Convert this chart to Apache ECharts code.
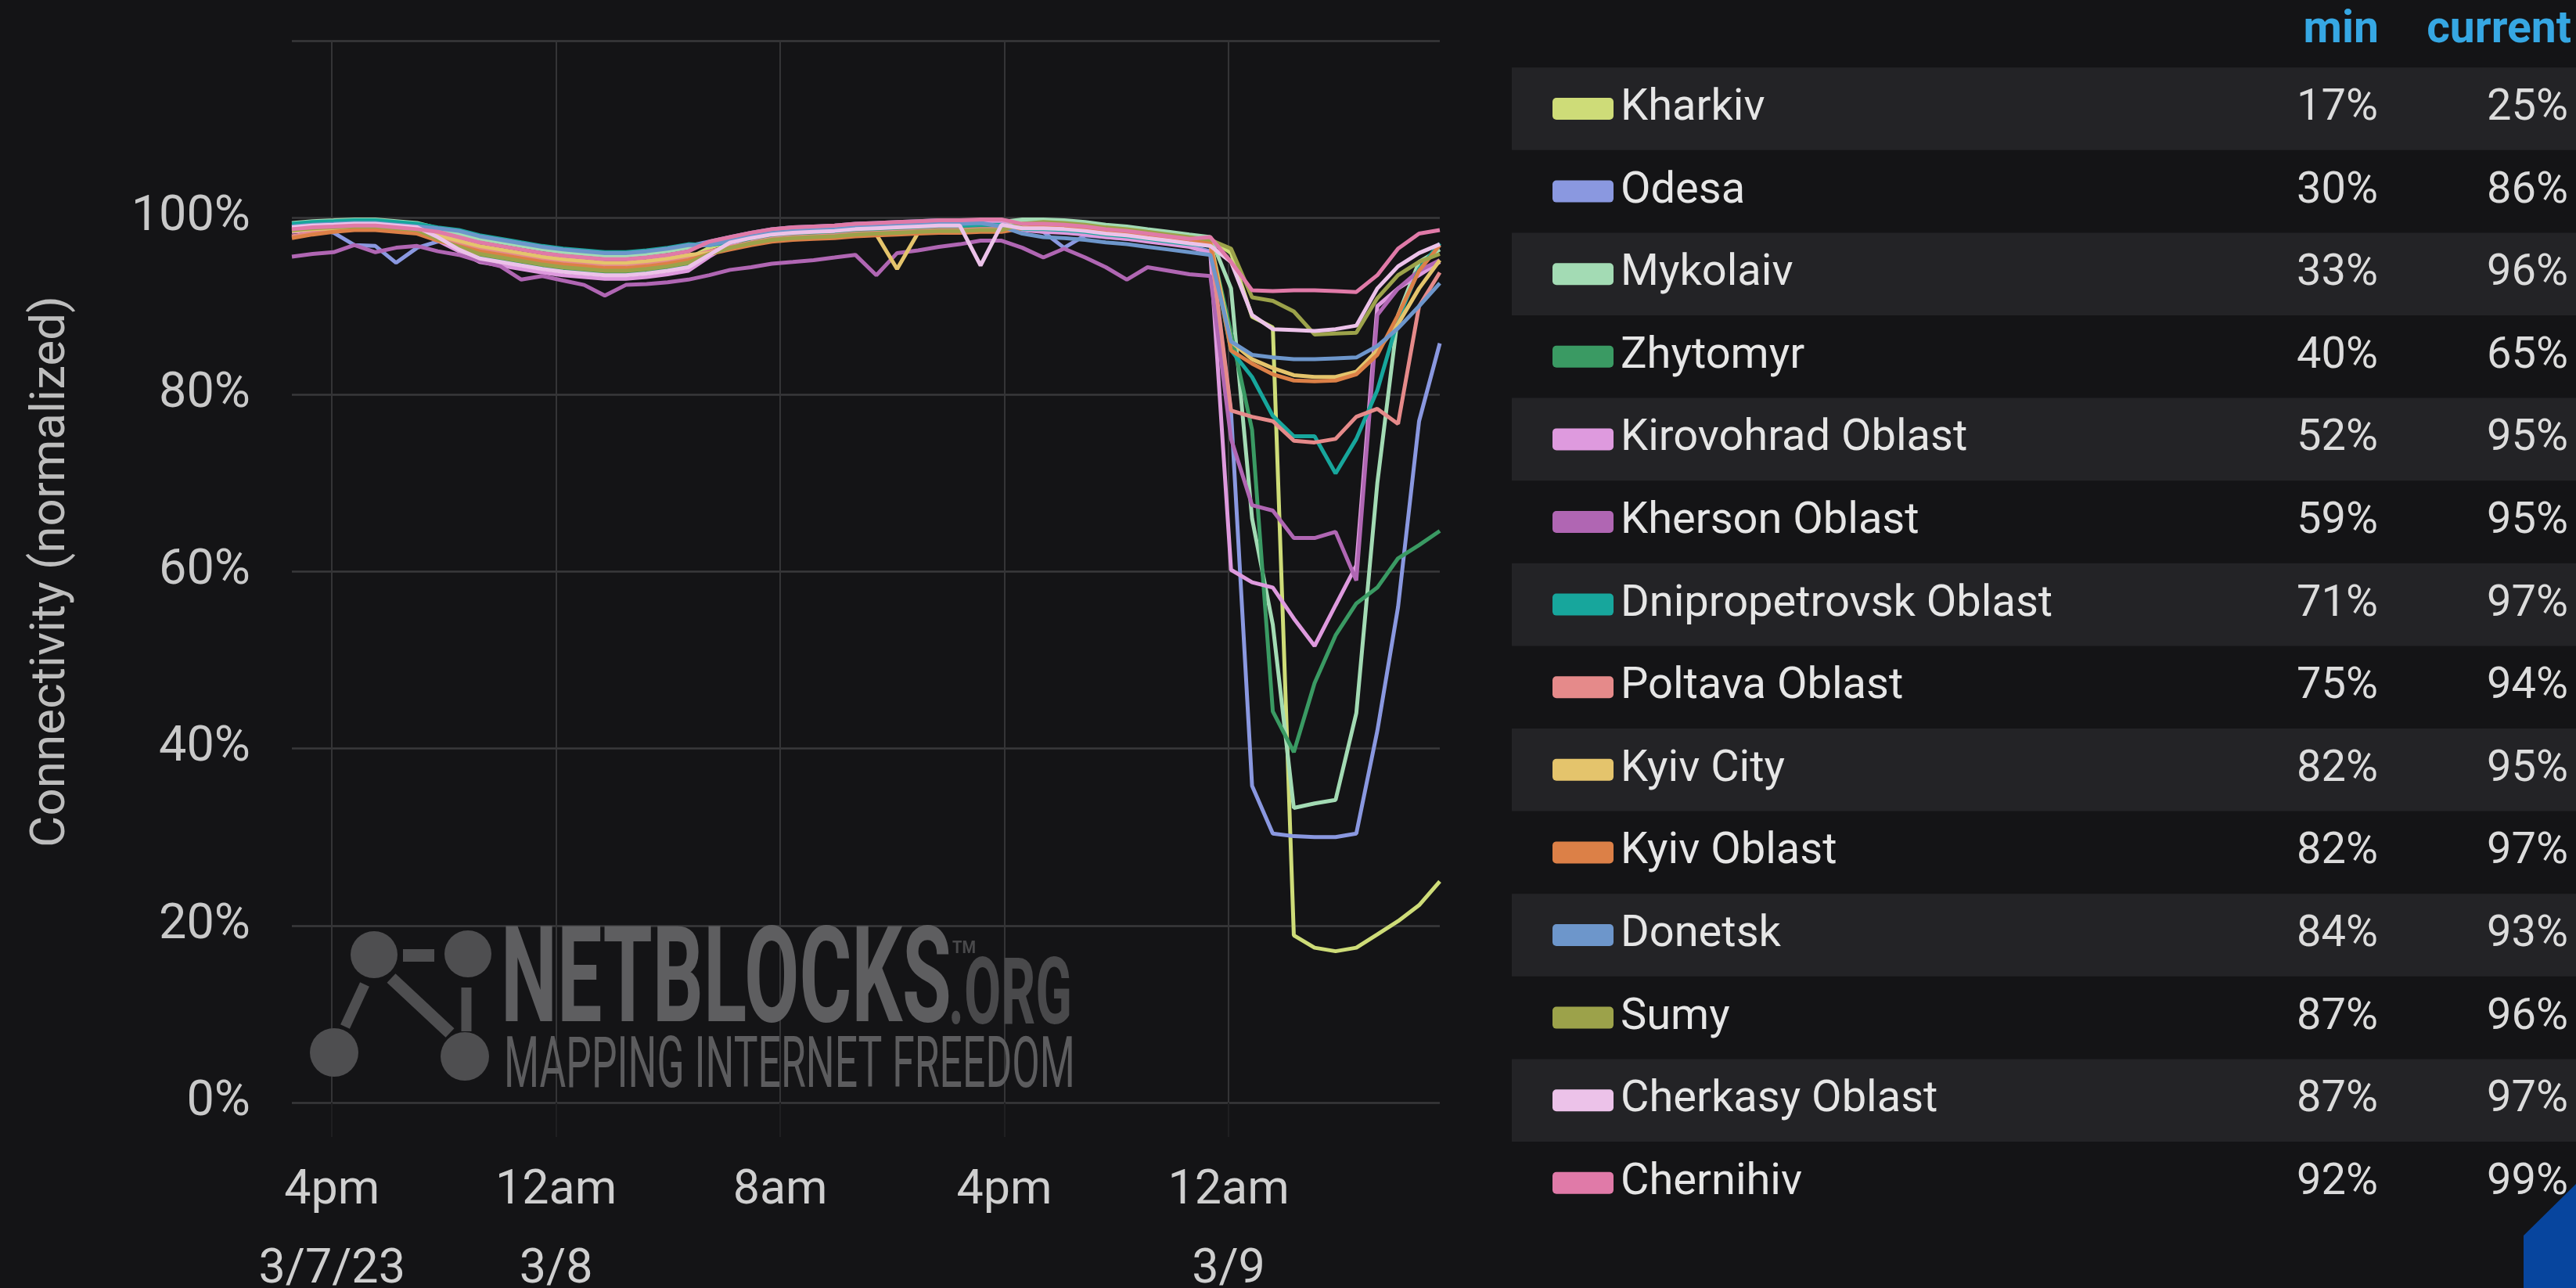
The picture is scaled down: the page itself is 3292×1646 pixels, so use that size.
<!DOCTYPE html>
<html><head><meta charset="utf-8">
<script src="https://cdn.jsdelivr.net/npm/echarts@6.0.0/dist/echarts.min.js"></script>
<style>html,body{margin:0;padding:0;background:#141416;}#c{width:3292px;height:1646px;}</style>
</head><body><div id="c"></div>
<script>
// ---------- DATA ----------
// x: hours since 3/7/23 00:00
const hours = [14.57,15.31,16.06,16.80,17.55,18.29,19.04,19.78,20.53,21.27,
  22.02,22.76,23.51,24.25,25.00,25.74,26.49,27.23,27.98,28.72,
  29.47,30.21,30.96,31.70,32.45,33.19,33.94,34.68,35.43,36.17,
  36.92,37.66,38.41,39.15,39.90,40.64,41.39,42.13,42.88,43.62,
  44.37,45.11,45.86,46.60,47.35,48.09,48.84,49.58,50.33,51.07,
  51.82,52.56,53.31,54.05,54.80,55.54];

const regions = ['Kharkiv','Odesa','Mykolaiv','Zhytomyr','Kirovohrad Oblast','Kherson Oblast',
  'Dnipropetrovsk Oblast','Poltava Oblast','Kyiv City','Kyiv Oblast','Donetsk','Sumy',
  'Cherkasy Oblast','Chernihiv'];

const kharkiv = [99.1,99.3,99.4,99.5,99.5,99.3,99.1, 98.0,97.2,96.4,96.0,95.6,95.2,94.9,94.7,94.5,94.5,94.7,95.0,95.4, 96.6,97.3,97.8,98.2,98.4,98.5,98.6,98.8,98.9,99.0,99.1,99.2,99.2,99.3,99.3, 99.5,99.6,99.5,99.3,99.0,98.8,98.5,98.2,97.9,97.6, 96.0,88.8,87.6,18.9,17.5,17.1,17.5,19.0,20.5,22.3,25.0];
const odesa = [99.0,98.8,98.3,96.9,96.8,94.9,96.6, 97.3,97.6,97.8,97.4,97.0,96.6,96.3,96.1,95.9,95.9,96.1,96.4,96.8, 97.3,97.8,98.3,98.7,98.9,99.0,99.1,99.3,99.4,99.5,99.6,99.7,99.7,99.6,99.3, 98.8,98.4,96.6,98.0,97.8,97.6,97.4,97.1,96.8,96.2, 78.0,35.8,30.4,30.1,30.0,30.0,30.4,42.0,56.0,77.0,85.8];
const mykolaiv = [99.4,99.6,99.7,99.8,99.8,99.6,99.4, 98.8,98.2,97.6,97.2,96.8,96.4,96.1,95.9,95.7,95.7,95.9,96.2,96.6, 97.0,97.5,98.0,98.4,98.6,98.7,98.8,99.0,99.1,99.2,99.3,99.4,99.4,99.5,99.5, 99.8,99.8,99.7,99.5,99.2,99.0,98.7,98.4,98.1,97.8, 92.0,66.0,54.0,33.3,33.8,34.2,44.0,70.0,89.0,95.0,96.4];
const zhytomyr = [98.8,99.0,99.1,99.2,99.2,99.0,98.8, 97.7,96.6,95.6,95.2,94.8,94.4,94.1,93.9,93.7,93.7,93.9,94.2,94.6, 95.8,96.8,97.3,97.7,97.9,98.0,98.1,98.3,98.4,98.5,98.6,98.7,98.7,98.8,98.8, 99.2,99.3,99.2,99.0,98.7,98.5,98.2,97.9,97.6,97.3, 87.0,76.0,44.2,39.6,47.4,52.8,56.4,58.2,61.5,63.0,64.6];
const kirovohrad = [98.4,98.6,98.7,98.8,98.8,98.6,98.4, 97.4,96.2,95.0,94.6,94.2,93.8,93.5,93.3,93.1,93.1,93.3,93.6,94.0, 95.6,97.0,97.9,98.3,98.5,98.6,98.7,98.9,99.0,99.1,99.2,99.3,99.3,99.4,99.4, 98.6,98.4,98.3,98.1,97.8,97.6,97.3,97.0,96.7,96.0, 60.2,58.8,58.2,54.7,51.6,56.2,60.7,90.0,92.0,93.5,95.0];
const kherson = [95.6,95.9,96.1,96.9,96.1,96.6,96.8, 96.2,95.8,95.1,94.5,93.0,93.4,92.9,92.4,91.2,92.4,92.5,92.7,93.0, 93.5,94.1,94.4,94.8,95.0,95.2,95.5,95.8,93.5,96.0,96.3,96.7,97.0,97.4,97.4, 96.6,95.5,96.5,95.5,94.4,93.0,94.4,94.0,93.6,93.4, 75.0,67.5,66.9,63.8,63.8,64.5,59.0,89.0,92.0,94.0,95.2];
const dnipropetrovsk = [99.3,99.5,99.6,99.7,99.7,99.5,99.3, 98.9,98.6,98.0,97.6,97.2,96.8,96.5,96.3,96.1,96.1,96.3,96.6,97.0, 96.9,97.2,97.7,98.1,98.3,98.4,98.5,98.7,98.8,98.9,99.0,99.1,99.1,99.2,99.2, 98.7,98.7,98.6,98.4,98.1,97.9,97.6,97.3,97.0,96.8, 85.0,82.0,77.6,75.3,75.3,71.1,75.0,80.5,88.5,94.2,97.1];
const poltava = [97.9,98.3,98.6,98.7,98.7,98.5,98.3, 97.8,97.2,96.6,96.2,95.8,95.4,95.1,94.9,94.7,94.7,94.9,95.2,95.6, 96.2,96.7,97.2,97.6,97.8,97.9,98.0,98.2,98.3,98.4,98.5,98.6,98.6,98.7,98.7, 99.1,99.2,99.1,98.9,98.6,98.4,98.1,97.8,97.5,97.0, 78.2,77.5,77.0,74.8,74.6,75.0,77.5,78.4,76.7,90.0,93.8];
const kyivCity = [98.5,98.7,98.8,98.9,98.9,98.7,98.5, 98.0,97.4,96.8,96.4,96.0,95.6,95.3,95.1,94.9,94.9,95.1,95.4,95.8, 96.0,96.5,97.0,97.4,97.6,97.7,97.8,98.0,98.1,94.2,98.3,98.4,98.4,98.5,98.5, 99.1,99.4,99.3,99.1,98.8,98.6,98.3,98.0,97.7,97.4, 86.0,84.0,83.0,82.2,82.0,82.0,82.6,85.0,88.0,92.0,95.2];
const kyivOblast = [97.7,98.1,98.4,98.6,98.6,98.4,98.2, 97.4,96.8,96.2,95.8,95.4,95.0,94.7,94.5,94.3,94.3,94.5,94.8,95.2, 95.9,96.4,96.9,97.3,97.5,97.6,97.7,97.9,98.0,98.1,98.2,98.3,98.3,98.4,98.4, 98.8,99.1,99.0,98.8,98.5,98.3,98.0,97.7,97.4,97.1, 85.0,83.5,82.3,81.6,81.5,81.6,82.3,84.5,89.0,94.0,96.9];
const donetsk = [99.0,99.2,99.3,99.4,99.4,99.2,99.0, 98.8,98.5,97.9,97.5,97.1,96.7,96.4,96.2,96.0,96.0,96.2,96.5,96.9, 96.9,97.4,97.9,98.3,98.5,98.6,98.7,98.9,99.0,99.1,99.2,99.3,99.3,99.4,99.0, 98.2,97.8,97.7,97.5,97.2,97.0,96.7,96.4,96.1,95.8, 86.0,84.5,84.2,84.0,84.0,84.1,84.2,85.5,87.5,90.0,92.6];
const sumy = [98.6,98.8,98.9,99.0,99.0,98.8,98.6, 97.6,96.7,95.9,95.5,95.1,94.7,94.4,94.2,94.0,94.0,94.2,94.5,94.9, 95.9,96.6,97.1,97.5,97.7,97.8,97.9,98.1,98.2,98.3,98.4,98.5,98.5,98.6,98.6, 99.3,99.5,99.4,99.2,98.9,98.7,98.4,98.1,97.8,97.5, 96.5,91.0,90.6,89.4,86.8,86.9,87.0,90.9,93.5,95.0,95.9];
const cherkasy = [98.9,99.1,99.2,99.3,99.3,99.1,98.9, 97.8,96.4,95.4,95.0,94.6,94.2,93.9,93.7,93.5,93.5,93.7,94.0,94.4, 95.8,97.2,97.7,98.1,98.3,98.4,98.5,98.7,98.8,98.9,99.0,99.1,99.1,94.6,99.2, 98.8,98.8,98.7,98.5,98.2,98.0,97.7,97.4,97.1,96.8, 95.0,89.0,87.4,87.3,87.2,87.4,87.8,92.0,94.5,96.0,97.0];
const chernihiv = [98.7,98.9,99.0,99.1,99.1,98.9,98.7, 98.4,97.8,97.2,96.8,96.4,96.0,95.7,95.5,95.3,95.3,95.5,95.8,96.2, 97.3,97.8,98.3,98.7,98.9,99.0,99.1,99.3,99.4,99.5,99.6,99.7,99.7,99.8,99.8, 99.3,99.3,99.2,99.0,98.7,98.5,98.2,97.9,97.6,97.8, 95.0,91.8,91.7,91.8,91.8,91.7,91.6,93.5,96.5,98.2,98.6];

const minLabels = ['17%','30%','33%','40%','52%','59%','71%','75%','82%','82%','84%','87%','87%','92%'];
const currentLabels = ['25%','86%','96%','65%','95%','95%','97%','94%','95%','97%','93%','96%','97%','99%'];

const xTickValues = [16, 24, 32, 40, 48];
const xTickLabels = ['4pm\n3/7/23', '12am\n3/8', '8am', '4pm', '12am\n3/9'];

// ---------- STYLE ----------
const colors = ['#cedc78','#8a98e0','#a3dbb4','#3a9a63','#de9ade','#b066b3','#17a69c',
  '#e58a8a','#e4c46c','#dc8047','#6d96cb','#9ca24a','#ecc2e9','#e07aa8'];
const seriesValues = [kharkiv, odesa, mykolaiv, zhytomyr, kirovohrad, kherson, dnipropetrovsk,
  poltava, kyivCity, kyivOblast, donetsk, sumy, cherkasy, chernihiv];

const FONT = 'Roboto, "Noto Sans", sans-serif';
const chart = echarts.init(document.getElementById('c'), null, {renderer: 'canvas'});

const ctx = document.createElement('canvas').getContext('2d');
function textW(t, font) { ctx.font = font; return ctx.measureText(t).width; }

// legend table layout
const rowPitch = 105.6, row0Center = 139, stripeLeft = 1932;
const swatchLeft = 1984, swatchW = 78, swatchH = 28;
const LFS = 56;
const graphics = [];
for (let i = 0; i < regions.length; i += 2) {
  graphics.push({type: 'rect', silent: true, z: 0,
    shape: {x: stripeLeft, y: row0Center + i * rowPitch - rowPitch / 2, width: 3292 - stripeLeft, height: rowPitch},
    style: {fill: '#232326'}});
}
regions.forEach((r, i) => graphics.push({type: 'rect', silent: true, z: 6,
  shape: {x: swatchLeft, y: row0Center + i * rowPitch - swatchH / 2, width: swatchW, height: swatchH, r: 5},
  style: {fill: colors[i]}}));
graphics.push({type: 'text', z: 5, x: 3040, y: 40, style: {text: 'min', fill: '#36a7e3', font: 'bold 57px ' + FONT, align: 'right', verticalAlign: 'middle'}});
graphics.push({type: 'text', z: 5, x: 3286, y: 40, style: {text: 'current', fill: '#36a7e3', font: 'bold 57px ' + FONT, align: 'right', verticalAlign: 'middle'}});

// watermark
const wmDark = '#4e4e50';
[[478,1220,30],[598,1219,30],[427,1345,31],[594,1350,31]].forEach(c => graphics.push(
  {type: 'circle', silent: true, z: 1, shape: {cx: c[0], cy: c[1], r: c[2]}, style: {fill: wmDark}}));
graphics.push({type: 'rect', silent: true, z: 1, shape: {x: 515, y: 1213, width: 40, height: 16}, style: {fill: wmDark}});
graphics.push({type: 'line', silent: true, z: 1, shape: {x1: 466, y1: 1258, x2: 441, y2: 1312}, style: {stroke: wmDark, lineWidth: 13}});
graphics.push({type: 'line', silent: true, z: 1, shape: {x1: 500, y1: 1250, x2: 575, y2: 1320}, style: {stroke: wmDark, lineWidth: 16}});
graphics.push({type: 'line', silent: true, z: 1, shape: {x1: 596, y1: 1262, x2: 596, y2: 1318}, style: {stroke: wmDark, lineWidth: 13}});
function wmText(t, left, cy, size, weight, width, fill) {
  const font = weight + ' ' + size + 'px ' + FONT;
  const sx = width / textW(t, font);
  graphics.push({type: 'text', silent: true, z: 1, x: left, y: cy, scaleX: sx, scaleY: 1,
    style: {text: t, font: font, fill: fill, align: 'left', verticalAlign: 'middle'}});
}
wmText('NETBLOCKS', 640, 1262, 170, 'bold', 576, '#5e5e60');
wmText('.ORG', 1212, 1278, 118, 'bold', 158, '#49494b');
wmText('TM', 1217, 1212, 22, 'bold', 30, '#49494b');
wmText('MAPPING INTERNET FREEDOM', 644, 1366, 90, 'normal', 730, '#5c5c5e');

// blue corner shape
graphics.push({type: 'polygon', silent: true, z: 10,
  shape: {points: [[3225, 1646], [3225, 1579], [3292, 1513], [3292, 1646]]}, style: {fill: '#07459e'}});

const option = {
  backgroundColor: '#141416',
  animation: false,
  grid: {left: 373, right: 3292 - 1840, top: 52, bottom: 1646 - 1409, containLabel: false, outerBoundsMode: 'none'},
  xAxis: {
    type: 'value', min: 14.57, max: 55.54,
    axisLine: {show: false},
    axisTick: {show: true, customValues: xTickValues, length: 44, lineStyle: {color: '#1f1f21', width: 2}},
    axisLabel: {customValues: xTickValues, color: '#cfcfcf', fontSize: 61, fontFamily: FONT, lineHeight: 101, margin: 63,
      formatter: v => xTickLabels[xTickValues.indexOf(Math.round(v))] || ''},
    splitLine: {show: true, lineStyle: {color: '#343436', width: 2}}
  },
  yAxis: {
    type: 'value', min: 0, max: 120, interval: 20,
    name: 'Connectivity (normalized)', nameLocation: 'middle', nameRotate: 90, nameGap: 276,
    nameTextStyle: {color: '#bdbdbd', fontSize: 62, fontFamily: FONT, lineHeight: 62},
    axisLine: {show: false}, axisTick: {show: false},
    axisLabel: {color: '#c9c9c9', fontSize: 63, fontFamily: FONT, margin: 53,
      formatter: v => v >= 120 ? '' : v + '%'},
    splitLine: {lineStyle: {color: '#39393b', width: 2.5}}
  },
  legend: {
    orient: 'vertical', left: swatchLeft, top: row0Center - rowPitch / 2, padding: 0, itemGap: 0,
    itemWidth: 82, itemHeight: swatchH, icon: 'rect',
    itemStyle: {borderWidth: 0, opacity: 0},
    data: regions,
    selectedMode: false,
    textStyle: {color: '#e6e6e6', fontSize: LFS, fontFamily: FONT, lineHeight: rowPitch,
      rich: {
        n: {width: 800, align: 'left', color: '#e6e6e6', fontSize: LFS, fontFamily: FONT, lineHeight: rowPitch},
        m: {width: 168, align: 'right', color: '#dcdcdc', fontSize: LFS, fontFamily: FONT, lineHeight: rowPitch},
        c: {width: 243, align: 'right', color: '#dcdcdc', fontSize: LFS, fontFamily: FONT, lineHeight: rowPitch}
      }},
    formatter: name => {
      const i = regions.indexOf(name);
      return '{n|' + name + '}{m|' + minLabels[i] + '}{c|' + currentLabels[i] + '}';
    }
  },
  graphic: {elements: graphics},
  series: regions.map((name, i) => ({
    type: 'line', name: name, color: colors[i],
    data: hours.map((h, j) => [h, seriesValues[i][j]]),
    showSymbol: false, symbol: 'none', clip: true, z: 3,
    lineStyle: {width: 5, color: colors[i]},
    itemStyle: {color: colors[i]},
    emphasis: {disabled: true}
  }))
};
chart.setOption(option);
</script></body></html>
